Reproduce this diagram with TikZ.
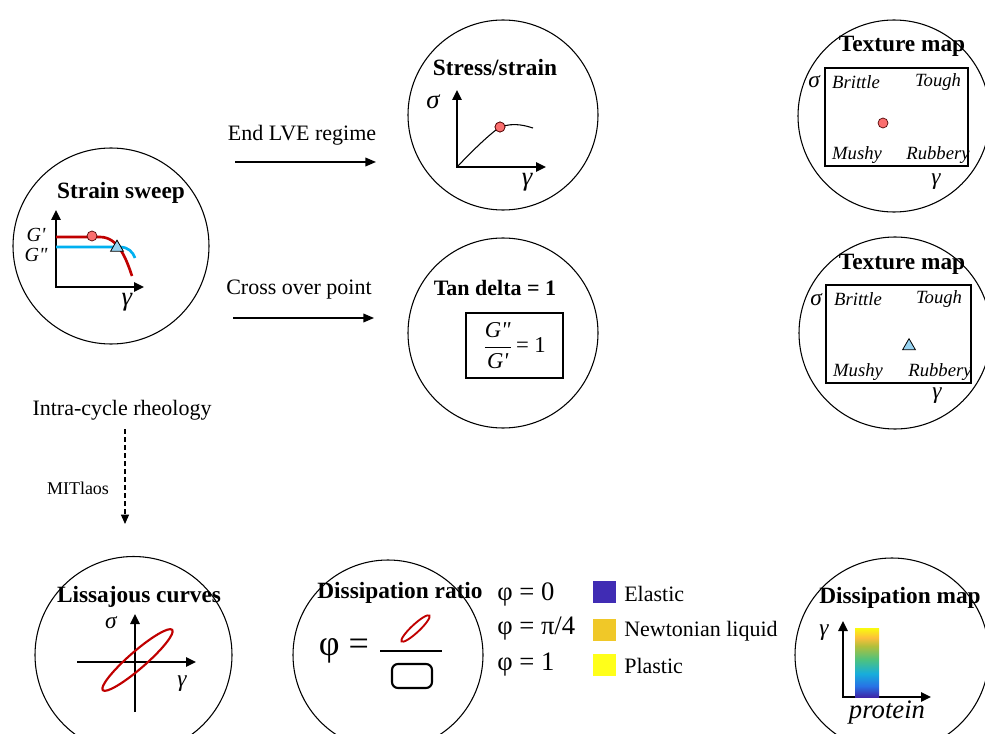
\RequirePackage{fix-cm}
\documentclass[tikz,border=0pt]{standalone}
\usepackage{fontspec}
\setmainfont{Liberation Serif}
\newfontfamily\qfont{Liberation Serif}
\usetikzlibrary{arrows.meta,shapes.geometric}
\definecolor{cred}{RGB}{192,0,0}
\definecolor{cblue}{RGB}{0,176,240}
\definecolor{dotred}{RGB}{250,110,110}
\definecolor{trifill}{RGB}{150,210,240}
\definecolor{elastic}{RGB}{64,44,180}
\definecolor{newton}{RGB}{240,200,40}
\definecolor{plastic}{RGB}{255,255,26}
\definecolor{pb0}{rgb}{0.2422,0.1504,0.6603}
\definecolor{pb1}{rgb}{0.1540,0.4500,0.9000}
\definecolor{pb2}{rgb}{0.0900,0.6800,0.8600}
\definecolor{pb3}{rgb}{0.3000,0.7600,0.5000}
\definecolor{pb4}{rgb}{0.7000,0.7500,0.2300}
\definecolor{pb5}{rgb}{0.9900,0.7500,0.2300}
\definecolor{pb6}{rgb}{0.9763,0.9831,0.0538}
\pgfdeclareverticalshading{parula}{100bp}{color(0bp)=(pb0); color(25bp)=(pb0); color(33bp)=(pb1); color(42bp)=(pb2); color(52bp)=(pb3); color(62bp)=(pb4); color(68bp)=(pb5); color(75bp)=(pb6); color(100bp)=(pb6)}
\tikzset{
  bubble/.style={circle,draw,line width=0.8pt,inner sep=0pt,minimum size=#1},
  title/.style={font=\fontsize{17.5}{19}\selectfont\bfseries,inner sep=0pt},
  lbl/.style={font=\fontsize{16.5}{18}\selectfont,inner sep=0pt},
  small/.style={font=\fontsize{13.5}{15}\selectfont,inner sep=0pt},
  itl/.style={font=\fontsize{14}{15}\selectfont\itshape,inner sep=0pt},
  mlbl/.style={font=\qfont\fontsize{20}{21}\selectfont\itshape,inner sep=0pt},
  mlbls/.style={font=\qfont\fontsize{17.5}{19}\selectfont\itshape,inner sep=0pt},
  glbl/.style={font=\qfont\fontsize{15}{16}\selectfont\itshape,inner sep=0pt},
  legtext/.style={font=\fontsize{20}{21}\selectfont,inner sep=0pt,anchor=west},
  axis/.style={line width=1.5pt,-{Triangle[length=7.5pt,width=7pt]}},
  axes/.style={line width=1.5pt,{Triangle[length=7.5pt,width=7pt]}-{Triangle[length=7.5pt,width=7pt]}},
  conn/.style={line width=1.1pt,-{Triangle[length=8pt,width=6.5pt]}},
  dot/.style={circle,fill=dotred,draw=black!70!red,line width=0.5pt,inner sep=0pt,minimum size=7.5pt},
  tri/.style={regular polygon,regular polygon sides=3,fill=trifill,draw=black,line width=0.6pt,inner sep=0pt,minimum size=11pt},
  swatch/.style={inner sep=0pt,minimum width=17.25pt,minimum height=16.5pt},
}
\begin{document}
\begin{tikzpicture}[x=0.75pt,y=-0.75pt]
\useasboundingbox (0,0) rectangle (985,734);

% ---------- Strain sweep ----------
\node[bubble=147pt] (ssC) at (111,246) {};
\node[title] (ssT) at (121,193) {Strain sweep};
\coordinate (ssO) at (56,287);
\coordinate (ssY) at (56,210);
\coordinate (ssX) at (144,287);
\draw[axes] (ssY) -- (ssO) -- (ssX);
\draw[cred,line width=2pt] (56,237) -- (100,237) .. controls (118,237) and (126,258) .. (132,276);
\draw[cblue,line width=2pt] (56,247) -- (120,247) .. controls (128,247) and (133,252) .. (135,258);
\node[dot] (ssDot) at (92,236) {};
\node[tri] (ssTri) at (117,247.5) {};
\node[glbl] (ssGp) at (36,235) {G'};
\node[glbl] (ssGpp) at (36,255) {G"};
\node[mlbl] (ssGam) at (127,302) {γ};

% ---------- Stress/strain ----------
\node[bubble=142.5pt] (stC) at (503,115) {};
\node[title] (stT) at (495,68) {Stress/strain};
\coordinate (stO) at (457,167);
\coordinate (stY) at (457,90);
\coordinate (stX) at (546,167);
\draw[axes] (stY) -- (stO) -- (stX);
\node[dot] (stDot) at (500,127) {};
\draw[line width=0.8pt] (stO) .. controls (475,148) and (490,134) .. (stDot.center);
\draw[line width=0.8pt] (stDot.center) .. controls (515,122) and (526,126) .. (533,128);
\node[dot] at (500,127) {};
\node[mlbl] (stSig) at (433,102) {σ};
\node[mlbl] (stGam) at (527,182) {γ};

% ---------- Texture map 1 ----------
\node[bubble=144pt] (t1C) at (894,116) {};
\node[title] (t1T) at (902,46) {Texture map};
\node[draw,line width=0.8pt,inner sep=0pt,minimum width=107.25pt,minimum height=73.5pt] (t1R) at (896.5,117) {};
\node[mlbls] (t1Sig) at (814,82) {σ};
\node[itl] (t1B) at (856,82) {Brittle};
\node[itl] (t1To) at (938,82) {Tough};
\node[itl] (t1M) at (857,155) {Mushy};
\node[itl] (t1Ru) at (938,155) {Rubbery};
\node[mlbls] (t1Gam) at (936,182) {γ};
\node[dot] (t1Dot) at (883,123) {};

% ---------- Texture map 2 ----------
\node[bubble=144pt] (t2C) at (895,333) {};
\node[title] (t2T) at (902,264) {Texture map};
\node[draw,line width=0.8pt,inner sep=0pt,minimum width=108.75pt,minimum height=73.5pt] (t2R) at (898.5,334) {};
\node[mlbls] (t2Sig) at (816,300) {σ};
\node[itl] (t2B) at (858,299) {Brittle};
\node[itl] (t2To) at (939,299) {Tough};
\node[itl] (t2M) at (858,372) {Mushy};
\node[itl] (t2Ru) at (940,372) {Rubbery};
\node[mlbls] (t2Gam) at (937,396) {γ};
\node[tri] (t2Tri) at (909,346) {};

% ---------- Tan delta ----------
\node[bubble=142.5pt] (tdC) at (503,333) {};
\node[title,font=\fontsize{16.5}{18}\selectfont\bfseries] (tdT) at (495,288) {Tan delta = 1};
\node[draw,line width=0.8pt,inner sep=0pt,minimum width=72.75pt,minimum height=48.75pt,
      font=\qfont\fontsize{17}{18}\selectfont] (tdBox) at (514.5,345.5)
  {$\displaystyle\frac{\mbox{\itshape G"}}{\mbox{\itshape G'}}$\,= 1};

% ---------- connectors ----------
\coordinate (a1s) at (235,162);
\coordinate (a1e) at (376,162);
\draw[conn] (a1s) -- (a1e);
\node[lbl] (a1L) at (302,135) {End LVE regime};
\coordinate (a2s) at (233,318);
\coordinate (a2e) at (374,318);
\draw[conn] (a2s) -- (a2e);
\node[lbl] (a2L) at (299,290) {Cross over point};
\node[lbl] (icr) at (122,410) {Intra-cycle rheology};
\coordinate (d1s) at (125,429);
\coordinate (d1e) at (125,524);
\draw[line width=0.9pt,dash pattern=on 3.5pt off 2.5pt,-{Triangle[length=7pt,width=6pt]}] (d1s) -- (d1e);
\node[small] (mit) at (78,488) {MITlaos};

% ---------- Lissajous ----------
\node[bubble=147.75pt] (lsC) at (133.5,655) {};
\node[title] (lsT) at (139,597) {Lissajous curves};
\coordinate (lsL) at (77,662);
\coordinate (lsR) at (196,662);
\coordinate (lsB) at (135,712);
\coordinate (lsU) at (135,614);
\draw[axis] (lsL) -- (lsR);
\draw[axis] (lsB) -- (lsU);
\draw[cred,line width=1.6pt,rotate around={41:(137.5,660)}] (137.5,660) ellipse [x radius=46, y radius=8.5];
\node[mlbls] (lsSig) at (111,623) {σ};
\node[mlbls] (lsGam) at (182,684) {γ};

% ---------- Dissipation ratio ----------
\node[bubble=142.5pt] (drC) at (388,655) {};
\node[title] (drT) at (400,593) {Dissipation ratio};
\node[font=\fontsize{27}{29}\selectfont,inner sep=0pt] (drPhi) at (344,651) {φ =};
\coordinate (frL) at (380,651);
\coordinate (frR) at (442,651);
\draw[line width=0.8pt] (frL) -- (frR);
\draw[cred,line width=1.4pt,rotate around={43:(415.5,628.5)}] (415.5,628.5) ellipse [x radius=19, y radius=4];
\draw[line width=1.6pt,rounded corners=4.5pt] (392,664) rectangle (432,688);

% ---------- legend ----------
\node[legtext] (lg1) at (497,594) {φ = 0};
\node[legtext] (lg2) at (497,629) {φ = π/4};
\node[legtext] (lg3) at (497,665) {φ = 1};
\node[swatch,fill=elastic] (sw1) at (604.5,592) {};
\node[swatch,fill=newton] (sw2) at (604.5,629.5) {};
\node[swatch,fill=plastic] (sw3) at (604.5,665) {};
\node[lbl,anchor=west] (lgE) at (624,594) {Elastic};
\node[lbl,anchor=west] (lgN) at (624,631) {Newtonian liquid};
\node[lbl,anchor=west] (lgP) at (624,666) {Plastic};

% ---------- Dissipation map ----------
\node[bubble=145.5pt] (dmC) at (892,655) {};
\node[title] (dmT) at (900,598) {Dissipation map};
\coordinate (dmO) at (843,697);
\coordinate (dmY) at (843,621);
\coordinate (dmX) at (931,697);
\draw[axes] (dmY) -- (dmO) -- (dmX);
\shade[shading=parula] (855,628) rectangle (879,697);
\node[mlbls] (dmGam) at (824,633) {γ};
\node[font=\qfont\fontsize{20}{21}\selectfont\itshape,inner sep=0pt] (dmP) at (887,713) {protein};
\end{tikzpicture}
\end{document}
